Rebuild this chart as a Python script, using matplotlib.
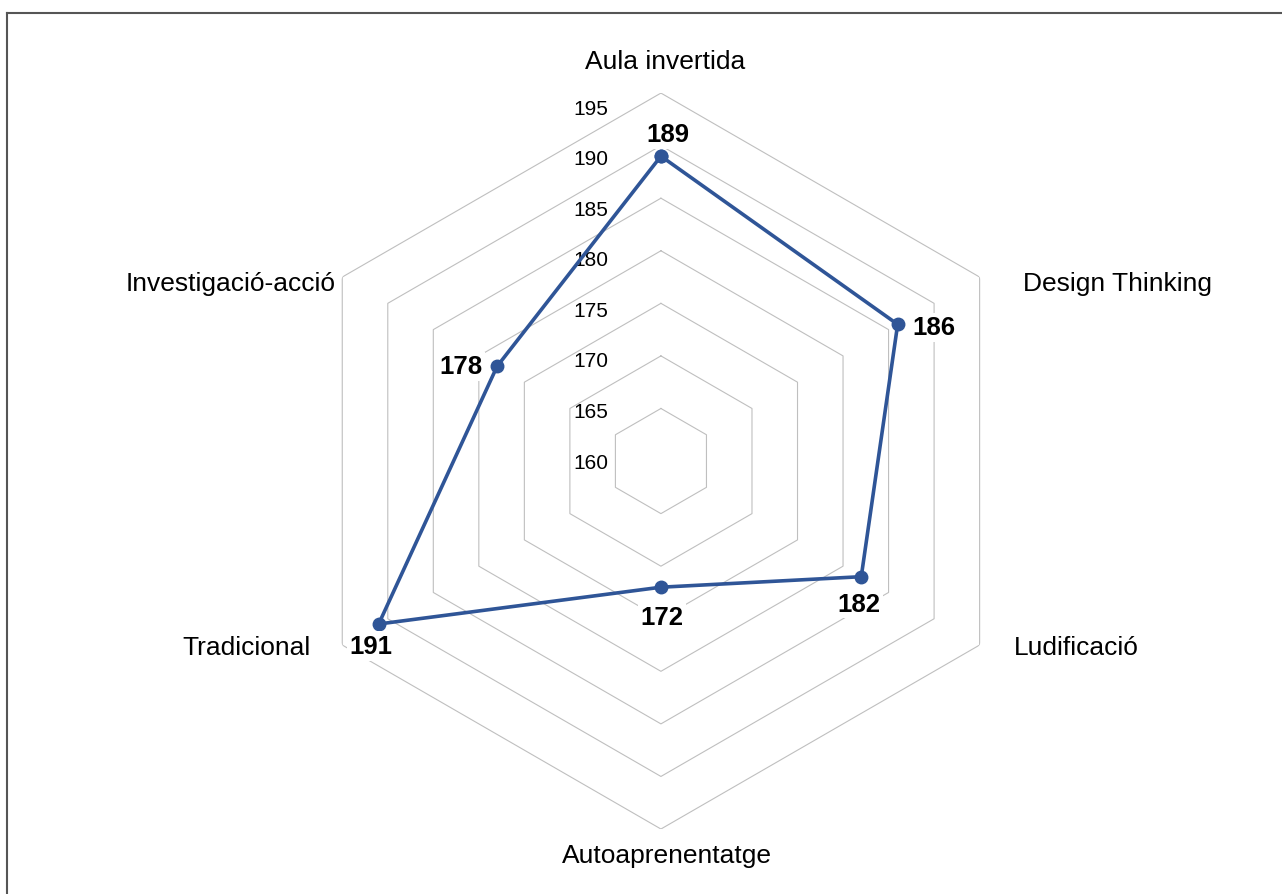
import numpy as np
import matplotlib
matplotlib.use("Agg")
import matplotlib.pyplot as plt
from matplotlib.lines import Line2D

plt.rcParams["font.family"] = ["Liberation Sans", "DejaVu Sans"]

categories = ["Aula invertida", "Design Thinking", "Ludificació",
              "Autoaprenentatge", "Tradicional", "Investigació-acció"]
values = [189, 186, 182, 172, 191, 178]
ticks = [160, 165, 170, 175, 180, 185, 190, 195]

LINE = "#2F5597"
GRID = "#BFBFBF"

fig = plt.figure(figsize=(12.82, 8.95), dpi=100)
fig.patch.set_facecolor("white")
# outer frame (only top and left edges visible in the original)
fig.add_artist(Line2D([0.0058, 0.0058], [0, 0.9845], color="#555555", lw=1.5))
fig.add_artist(Line2D([0.0058, 1.0], [0.9845, 0.9845], color="#555555", lw=1.5))

ax = fig.add_axes([0.2285, 0.0726, 0.5741, 0.8223], projection="polar")
ax.set_theta_zero_location("N")
ax.set_theta_direction(-1)
ax.set_ylim(ticks[0], ticks[-1])
ax.grid(False)
ax.spines["polar"].set_visible(False)
ax.set_xticks([])
ax.set_yticks([])
ax.patch.set_alpha(0)

angles = np.linspace(0, 2 * np.pi, len(categories), endpoint=False)
closed = np.append(angles, angles[0])

# hexagonal grid rings
for t in ticks[1:]:
    ax.plot(closed, [t] * len(closed), color=GRID, lw=0.8, zorder=1)

# radial tick labels
for t in ticks:
    ax.annotate(str(t), xy=(0, t), xytext=(-53, -(1 + 0.4 * (t - ticks[0]))),
                textcoords="offset pixels", ha="right", va="center",
                fontsize=15, color="black", annotation_clip=False, zorder=2)

# data series
ax.plot(closed, values + values[:1], color=LINE, lw=2.6, marker="o",
        markersize=9, zorder=4, clip_on=False)

# category labels: (offset x, offset y) in pixels, alignment
cat_pos = [((4, 32), "center"), ((43, -6), "left"), ((34, -2), "left"),
           ((6, -26), "center"), ((-32, -2), "right"), ((-7, -6), "right")]
for ang, name, ((dx, dy), ha) in zip(angles, categories, cat_pos):
    ax.annotate(name, xy=(ang, ticks[-1]), xytext=(dx, dy), textcoords="offset pixels",
                ha=ha, va="center", fontsize=19, annotation_clip=False)

# data labels
lab_pos = [((7, 22), "center"), ((15, -3), "left"), ((-2, -27), "center"),
           ((1, -30), "center"), ((-8, -22), "center"), ((-15, 0), "right")]
for ang, v, ((dx, dy), ha) in zip(angles, values, lab_pos):
    ax.annotate(str(v), xy=(ang, v), xytext=(dx, dy), textcoords="offset pixels",
                ha=ha, va="center", fontsize=18.5, fontweight="bold", zorder=5,
                annotation_clip=False,
                bbox=dict(boxstyle="square,pad=0.1", fc="white", ec="none"))

fig.savefig("out.png", dpi=100, facecolor="white")
